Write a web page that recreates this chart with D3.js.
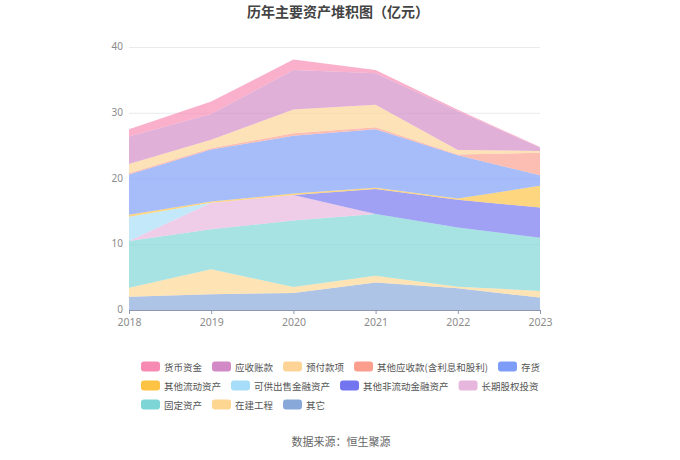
<!DOCTYPE html>
<html>
<head>
<meta charset="utf-8">
<script src="https://cdn.jsdelivr.net/npm/d3@7"></script>
<style>
  html, body { margin: 0; padding: 0; background: #fff; }
  svg { display: block; font-family: "Noto Sans CJK SC", "Noto Sans", sans-serif; }
</style>
</head>
<body>
<svg id="chart" width="680" height="460"></svg>
<script>
// ---- data ----
const years = ["2018", "2019", "2020", "2021", "2022", "2023"];
const yTicks = [0, 10, 20, 30, 40];
// legend order (top of stack first)
const seriesNames = ["货币资金", "应收账款", "预付款项", "其他应收款(含利息和股利)", "存货",
  "其他流动资产", "可供出售金融资产", "其他非流动金融资产", "长期股权投资",
  "固定资产", "在建工程", "其它"];
const seriesColors = ["#f78ab2", "#d28ac6", "#fdd495", "#fb9e8e", "#7d9df8",
  "#fec343", "#a6ddf8", "#7374ef", "#e7b6dd", "#7dd5d5", "#fdd692", "#88a8da"];
const v货币资金 = [1.1, 1.9, 1.6, 0.5, 0.2, 0.1];
const v应收账款 = [4.2, 3.9, 6.0, 4.8, 5.9, 0.5];
const v预付款项 = [1.4, 1.3, 3.6, 3.4, 0.7, 0.3];
const v其他应收款 = [0.2, 0.2, 0.4, 0.3, 0.1, 3.4];
const v存货 = [6.1, 7.9, 8.8, 8.9, 6.6, 1.6];
const v其他流动资产 = [0.3, 0.2, 0.2, 0.2, 0.2, 3.3];
const v可供出售金融资产 = [3.7, 0, 0, 0, 0, 0];
const v其他非流动金融资产 = [0, 0, 0, 3.8, 4.2, 4.6];
const v长期股权投资 = [0, 4.0, 3.9, 0, 0, 0];
const v固定资产 = [7.1, 6.1, 10.1, 9.4, 9.0, 8.1];
const v在建工程 = [1.4, 3.8, 0.9, 1.0, 0.25, 1.0];
const v其它 = [2.0, 2.4, 2.6, 4.2, 3.3, 1.9];
const seriesValues = [v货币资金, v应收账款, v预付款项, v其他应收款, v存货, v其他流动资产,
  v可供出售金融资产, v其他非流动金融资产, v长期股权投资, v固定资产, v在建工程, v其它];

// ---- layout ----
const svg = d3.select("#chart");
const W = 680, H = 460;
const margin = { left: 129, right: 140, top: 47, bottom: 150 };
const x = d3.scalePoint().domain(years).range([margin.left, W - margin.right]);
const y = d3.scaleLinear().domain([0, 40]).range([H - margin.bottom, margin.top]);

svg.append("rect").attr("width", W).attr("height", H).attr("fill", "#fff");

// title
svg.append("text").attr("x", 338).attr("y", 16.5).attr("text-anchor", "middle")
  .attr("font-size", 14).attr("font-weight", "bold").attr("fill", "#444")
  .text("历年主要资产堆积图（亿元）");

// grid
svg.append("g").selectAll("line").data(yTicks.filter(d => d > 0)).join("line")
  .attr("x1", margin.left).attr("x2", W - margin.right)
  .attr("y1", d => y(d) + 0.5).attr("y2", d => y(d) + 0.5)
  .attr("stroke", "#e8eaee").attr("stroke-width", 1);

// stack (bottom first = reverse of legend order)
const table = years.map((yr, i) => {
  const row = { year: yr };
  seriesNames.forEach((n, k) => row[n] = seriesValues[k][i]);
  return row;
});
const keys = seriesNames.slice().reverse();
const stacked = d3.stack().keys(keys)(table);
const colorOf = n => seriesColors[seriesNames.indexOf(n)];
const area = d3.area().x(d => x(d.data.year)).y0(d => y(d[0])).y1(d => y(d[1]))
  .curve(d3.curveLinear);
svg.append("g").selectAll("path").data(stacked).join("path")
  .attr("d", area).attr("fill", d => colorOf(d.key)).attr("fill-opacity", 0.68);

// y axis
const yAxis = d3.axisLeft(y).tickValues(yTicks).tickSize(0).tickPadding(6);
const gy = svg.append("g").attr("transform", `translate(${margin.left},0)`).call(yAxis);
gy.select(".domain").remove();
gy.selectAll("text").attr("font-size", 10).attr("fill", "#8c8c8c").attr("dy", "0.25em")
  .attr("font-family", "'Noto Sans', sans-serif");

// x axis
const xAxis = d3.axisBottom(x).tickSize(4).tickPadding(5);
const gx = svg.append("g").attr("transform", `translate(0,${y(0)})`).call(xAxis);
gx.select(".domain").attr("stroke", "#8e97b0").attr("d", `M${margin.left},0.5H${W - margin.right}`);
gx.selectAll(".tick line").attr("stroke", "#8e97b0");
gx.selectAll("text").attr("font-size", 10.5).attr("fill", "#8c8c8c")
  .attr("font-family", "'Noto Sans', sans-serif");

// legend (flow layout, left aligned)
const legend = svg.append("g");
let lx = 141, ly = 366.5;
const maxRight = 545;
seriesNames.forEach((n, i) => {
  const g = legend.append("g");
  const t = g.append("text").attr("font-size", 9.5).attr("fill", "#555")
    .attr("dominant-baseline", "central").text(n);
  const tw = t.node().getComputedTextLength();
  if (lx + 23 + tw > maxRight) { lx = 141; ly += 19; }
  g.append("rect").attr("x", lx).attr("y", ly - 5).attr("width", 19).attr("height", 10)
    .attr("rx", 3).attr("fill", seriesColors[i]);
  t.attr("x", lx + 23).attr("y", ly);
  lx += 23 + tw + 10;
});

// source
svg.append("text").attr("x", 341).attr("y", 446).attr("text-anchor", "middle")
  .attr("font-size", 11).attr("fill", "#666").text("数据来源：恒生聚源");
</script>
</body>
</html>
